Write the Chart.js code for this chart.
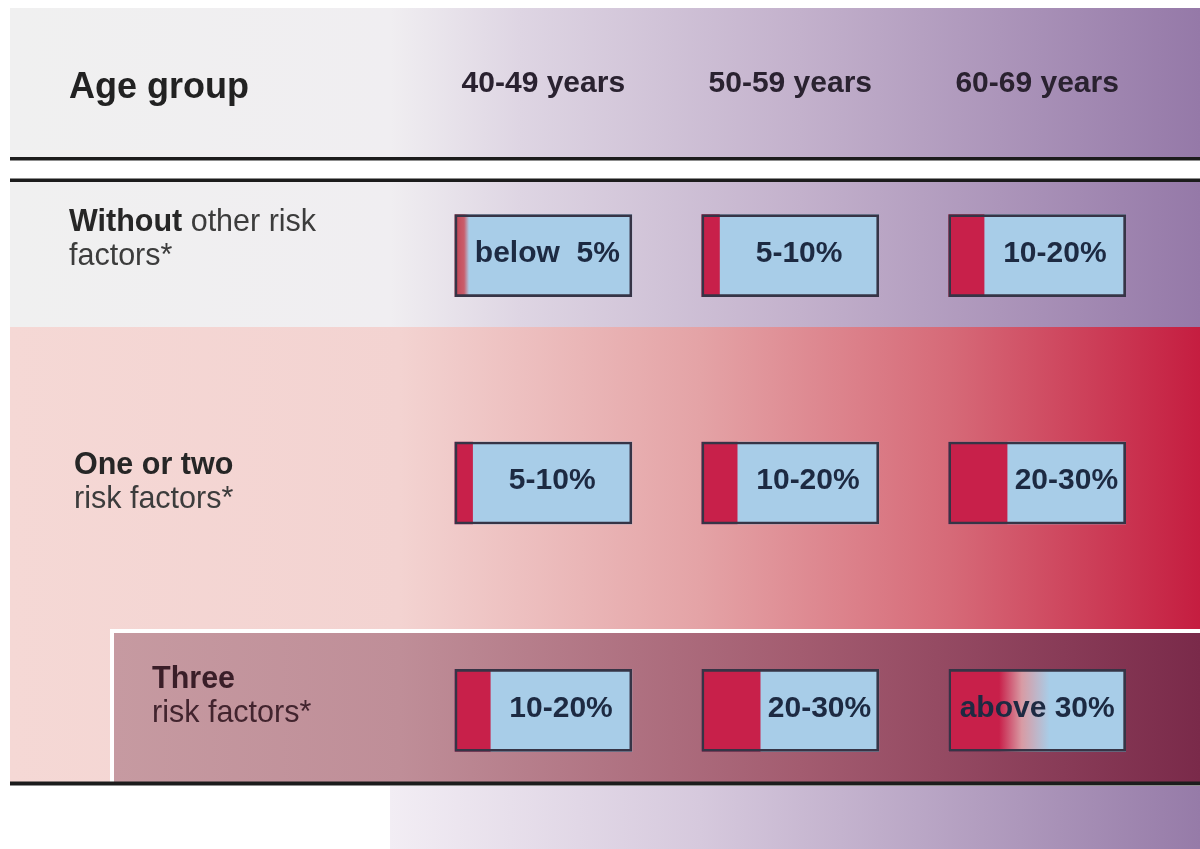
<!DOCTYPE html>
<html>
<head>
<meta charset="utf-8">
<title>Risk by age group</title>
<script src="https://cdn.jsdelivr.net/npm/chart.js@4.4.1/dist/chart.umd.min.js"></script>
<style>
  html, body { margin: 0; padding: 0; background: #fff; }
  #wrap { width: 1200px; height: 849px; position: relative; }
</style>
</head>
<body>
<div id="wrap"><canvas id="chart-risiko"></canvas></div>
<script>
// --- data ---
var ageGroups = ['40-49 years', '50-59 years', '60-69 years'];
var riskRows = ['none', 'oneOrTwo', 'three'];
var rowBold = ['Without', 'One or two', 'Three'];
var rowRest = [' other risk', '', ''];
var rowLine2 = ['factors*', 'risk factors*', 'risk factors*'];
var riskLabels = [
  ['below  5%', '5-10%', '10-20%'],
  ['5-10%', '10-20%', '20-30%'],
  ['10-20%', '20-30%', 'above 30%']
];
// red part of each box, in % of the box width
var redShare = [
  [8, 10, 20],
  [10, 20, 33],
  [20, 33, 57]
];
// where the red starts fading into blue (1 = no fade)
var fadeFrom = [
  [0, 1, 1],
  [1, 1, 1],
  [1, 1, 0.5]
];
var colStep = 139.5; // each age column = 100 units box + gap

var RED = '#c8204a';
var BLUE = '#a8cde8';
var FONT = '"Liberation Sans", Arial, sans-serif';

var cells = [];
riskRows.forEach(function(row, r) {
  ageGroups.forEach(function(age, c) {
    cells.push({ row: row, r: r, c: c, off: c * colStep });
  });
});

function redFill(ctx) {
  var chart = ctx.chart;
  var k = cells[ctx.dataIndex];
  if (!k || fadeFrom[k.r][k.c] >= 1 || !chart.chartArea) return RED;
  var xs = chart.scales.x;
  var x0 = xs.getPixelForValue(k.off);
  var x1 = xs.getPixelForValue(k.off + redShare[k.r][k.c]);
  var f = fadeFrom[k.r][k.c];
  var g = chart.ctx.createLinearGradient(x0, 0, x1, 0);
  if (f === 0) {
    g.addColorStop(0, '#c24454');
    g.addColorStop(0.65, '#c95e6b');
    g.addColorStop(1, BLUE);
  } else {
    g.addColorStop(0, RED);
    g.addColorStop(f, RED);
    g.addColorStop(f + (1 - f) * 0.45, '#d89ba4');
    g.addColorStop(1, BLUE);
  }
  return g;
}

function hGrad(ctx, x0, x1, stops) {
  var g = ctx.createLinearGradient(x0, 0, x1, 0);
  stops.forEach(function(s) { g.addColorStop((s[0] - x0) / (x1 - x0), s[1]); });
  return g;
}

// backgrounds, rules and all texts
var tulisan = {
  id: 'tulisan',
  beforeDraw: function(chart) {
    var ctx = chart.ctx;
    ctx.save();
    ctx.fillStyle = '#fff';
    ctx.fillRect(0, 0, chart.width, chart.height);

    var lilac = [[10, '#f0f0f0'], [390, '#f0eef1'], [520, '#ded5e3'], [800, '#c3b1cc'], [1200, '#9579a8']];
    ctx.fillStyle = hGrad(ctx, 10, 1200, lilac);
    ctx.fillRect(10, 8, 1190, 150);
    ctx.fillRect(10, 181, 1190, 146);

    ctx.fillStyle = hGrad(ctx, 10, 1200, [[10, '#f5d8d5'], [400, '#f3d3d1'], [700, '#e4a3a6'], [950, '#d66a78'], [1200, '#c51d40']]);
    ctx.fillRect(10, 327, 1190, 456);

    ctx.fillStyle = '#fff';
    ctx.fillRect(110, 629, 1090, 154);
    ctx.fillStyle = hGrad(ctx, 114, 1200, [[114, '#c69aa1'], [400, '#bf8e98'], [800, '#a35c70'], [1200, '#7a2a4a']]);
    ctx.fillRect(114, 633, 1086, 150);

    ctx.fillStyle = hGrad(ctx, 390, 1200, [[390, '#f2edf4'], [700, '#d6c9dd'], [1200, '#967ba8']]);
    ctx.fillRect(390, 786, 810, 63);

    ctx.fillStyle = '#1c1c1c';
    ctx.fillRect(10, 157, 1190, 3.5);
    ctx.fillRect(10, 178.5, 1190, 3.5);
    ctx.fillRect(10, 781.5, 1190, 4);
    ctx.restore();
  },
  afterDatasetsDraw: function(chart) {
    var ctx = chart.ctx;
    var xs = chart.scales.x;
    var ys = chart.scales.y;
    ctx.save();
    ctx.textBaseline = 'middle';

    // header
    ctx.fillStyle = '#222';
    ctx.textAlign = 'left';
    ctx.font = 'bold 36px ' + FONT;
    ctx.fillText('Age group', 69, 88);
    ctx.textAlign = 'center';
    ctx.font = 'bold 30px ' + FONT;
    ctx.fillStyle = '#2a2230';
    ageGroups.forEach(function(a, c) {
      ctx.fillText(a, xs.getPixelForValue(c * colStep + 50), 84);
    });

    // row labels
    var rowX = [69, 74, 152];
    var rowY = [223, 466, 680];
    rowBold.forEach(function(b, r) {
      ctx.textAlign = 'left';
      ctx.font = 'bold 30.5px ' + FONT;
      ctx.fillStyle = r === 2 ? '#3a1e28' : '#262626';
      ctx.fillText(b, rowX[r], rowY[r]);
      var w = ctx.measureText(b).width;
      ctx.font = '30.5px ' + FONT;
      ctx.fillStyle = r === 2 ? '#42242e' : '#3c3c3c';
      if (rowRest[r]) ctx.fillText(rowRest[r], rowX[r] + w, rowY[r]);
      ctx.fillText(rowLine2[r], rowX[r], rowY[r] + 34);
    });

    // box labels
    ctx.textAlign = 'center';
    ctx.font = 'bold 30px ' + FONT;
    ctx.fillStyle = '#1d2a42';
    cells.forEach(function(k) {
      var lbl = riskLabels[k.r][k.c];
      var cx;
      if (fadeFrom[k.r][k.c] < 1) cx = xs.getPixelForValue(k.off + 50) + (k.c === 0 ? 4 : 0);
      else cx = (xs.getPixelForValue(k.off + redShare[k.r][k.c]) + xs.getPixelForValue(k.off + 100)) / 2;
      ctx.fillText(lbl, cx, ys.getPixelForValue(k.r) - 2);
    });
    ctx.restore();
  }
};

var chartRisiko = new Chart(document.getElementById('chart-risiko'), {
  type: 'bar',
  data: {
    labels: riskRows,
    datasets: [
      {
        label: 'outline',
        data: cells.map(function(k) { return { y: k.row, x: [k.off, k.off + 100] }; }),
        backgroundColor: 'rgba(0,0,0,0)',
        borderColor: '#363446',
        borderWidth: 2,
        borderSkipped: false
      },
      {
        label: 'risk',
        data: cells.map(function(k) { return { y: k.row, x: [k.off, k.off + redShare[k.r][k.c]] }; }),
        backgroundColor: redFill,
        borderWidth: 0
      },
      {
        label: 'rest',
        data: cells.map(function(k) { return { y: k.row, x: [k.off, k.off + 100] }; }),
        backgroundColor: BLUE,
        borderWidth: 0
      }
    ]
  },
  options: {
    indexAxis: 'y',
    responsive: true,
    maintainAspectRatio: false,
    animation: false,
    layout: { padding: { top: 142, bottom: 25, left: 0, right: 0 } },
    datasets: { bar: { grouped: false, barThickness: 82 } },
    plugins: { legend: { display: false }, tooltip: { enabled: false } },
    scales: {
      x: { type: 'linear', min: -257, max: 421, display: false },
      y: { type: 'category', display: false, offset: true }
    }
  },
  plugins: [tulisan]
});
</script>
</body>
</html>
